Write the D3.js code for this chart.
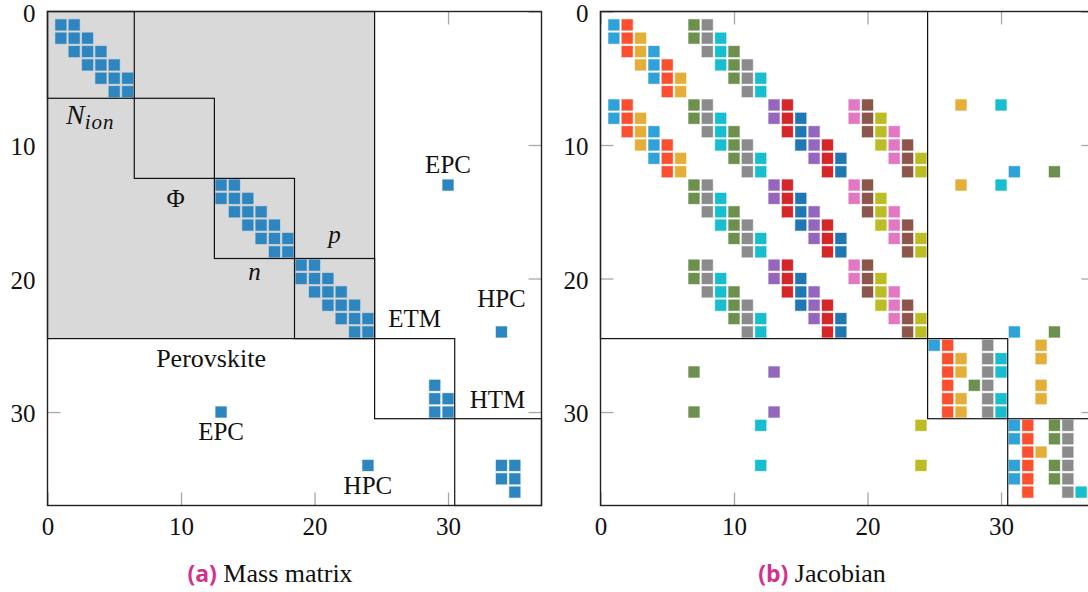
<!DOCTYPE html>
<html>
<head>
<meta charset="utf-8">
<script src="https://cdn.jsdelivr.net/npm/d3@7"></script>
<style>
  body { margin: 0; background: #fff; }
  svg { display: block; }
</style>
</head>
<body>
<div id="chart"></div>
<script>
// matrix size, tick labels and block boundaries
var matrixSize = 37;
var tickValues = [0, 10, 20, 30];
var blockEdges = [0, 6.5, 12.5, 18.5, 24.5, 30.5, 37];

// mass matrix: column indices of the nonzeros, one list per row (row 1..36)
var massCols = [
    [1, 2], [1, 2, 3], [2, 3, 4], [3, 4, 5], [4, 5, 6], [5, 6],
    [], [], [], [], [], [],
    [13, 14, 30], [13, 14, 15], [14, 15, 16], [15, 16, 17], [16, 17, 18], [17, 18],
    [19, 20], [19, 20, 21], [20, 21, 22], [21, 22, 23], [22, 23, 24], [23, 24, 34],
    [], [], [], [29], [29, 30], [13, 29, 30],
    [], [], [], [24, 34, 35], [34, 35], [35]
];

// jacobian: column indices of the nonzeros, one list per row (row 1..36)
var jacCols = [
    [1, 2, 7, 8],
    [1, 2, 3, 7, 8, 9],
    [2, 3, 4, 8, 9, 10],
    [3, 4, 5, 9, 10, 11],
    [4, 5, 6, 10, 11, 12],
    [5, 6, 11, 12],
    [1, 2, 7, 8, 13, 14, 19, 20, 27, 30],
    [1, 2, 3, 7, 8, 9, 13, 14, 15, 19, 20, 21],
    [2, 3, 4, 8, 9, 10, 14, 15, 16, 20, 21, 22],
    [3, 4, 5, 9, 10, 11, 15, 16, 17, 21, 22, 23],
    [4, 5, 6, 10, 11, 12, 16, 17, 18, 22, 23, 24],
    [5, 6, 11, 12, 17, 18, 23, 24, 31, 34],
    [7, 8, 13, 14, 19, 20, 27, 30],
    [7, 8, 9, 13, 14, 15, 19, 20, 21],
    [8, 9, 10, 14, 15, 16, 20, 21, 22],
    [9, 10, 11, 15, 16, 17, 21, 22, 23],
    [10, 11, 12, 16, 17, 18, 22, 23, 24],
    [11, 12, 17, 18, 23, 24],
    [7, 8, 13, 14, 19, 20],
    [7, 8, 9, 13, 14, 15, 19, 20, 21],
    [8, 9, 10, 14, 15, 16, 20, 21, 22],
    [9, 10, 11, 15, 16, 17, 21, 22, 23],
    [10, 11, 12, 16, 17, 18, 22, 23, 24],
    [11, 12, 17, 18, 23, 24, 31, 34],
    [25, 26, 29, 33],
    [26, 27, 29, 30, 33],
    [7, 13, 26, 27, 29, 30],
    [26, 28, 29, 33],
    [26, 27, 29, 30, 33],
    [7, 13, 26, 27, 29, 30],
    [12, 24, 31, 32, 34, 35],
    [31, 32, 34, 35],
    [32, 33, 35],
    [12, 24, 31, 32, 34, 35],
    [31, 32, 34, 35],
    [32, 35, 36]
];

// jacobian colour of each column (col 1..36)
var jacColors = [
    "#30a2da", "#fc4f30", "#e5ae38", "#30a2da", "#fc4f30", "#e5ae38",
    "#6d904f", "#8b8b8b", "#17becf", "#6d904f", "#8b8b8b", "#17becf",
    "#9467bd", "#d62728", "#1f77b4", "#9467bd", "#d62728", "#1f77b4",
    "#e377c2", "#8c564b", "#bcbd22", "#e377c2", "#8c564b", "#bcbd22",
    "#30a2da", "#fc4f30", "#e5ae38", "#6d904f", "#8b8b8b", "#17becf",
    "#30a2da", "#fc4f30", "#e5ae38", "#6d904f", "#8b8b8b", "#17becf"
];

// block labels on the mass matrix
var massLabels = [
    { text: "Φ", x: 9.6, y: 14.0, italic: false },
    { text: "p", x: 21.5, y: 16.9, italic: true },
    { text: "n", x: 15.5, y: 19.7, italic: true },
    { text: "ETM", x: 27.5, y: 23.05, italic: false },
    { text: "Perovskite", x: 12.25, y: 26.0, italic: false },
    { text: "HTM", x: 33.7, y: 29.1, italic: false },
    { text: "EPC", x: 30, y: 11.5, italic: false },
    { text: "HPC", x: 34, y: 21.5, italic: false },
    { text: "EPC", x: 13, y: 31.5, italic: false },
    { text: "HPC", x: 24, y: 35.5, italic: false }
];

var svgWidth = 1088;
var svgHeight = 592;
var plotSize = 494;
var plotTop = 11.5;
var serif = "'Liberation Serif', 'Times New Roman', serif";

var svg = d3.select("#chart")
    .append("svg")
    .attr("width", svgWidth)
    .attr("height", svgHeight);

svg.append("rect")
    .attr("width", svgWidth)
    .attr("height", svgHeight)
    .attr("fill", "#fff");

function toCells(colsPerRow) {
    var cells = [];
    colsPerRow.forEach(function(cols, i) {
        cols.forEach(function(c) {
            cells.push({ row: i + 1, col: c });
        });
    });
    return cells;
}

function drawPanel(left, cells, colorOf, isMass) {
    var x = d3.scaleLinear().domain([0, matrixSize]).range([left, left + plotSize]);
    var y = d3.scaleLinear().domain([0, matrixSize]).range([plotTop, plotTop + plotSize]);

    var g = svg.append("g");

    // ticks (inward, gray), labels only left and bottom
    var axes = [
        { axis: d3.axisBottom(x), t: `translate(0, ${y(matrixSize)})`, labels: true },
        { axis: d3.axisLeft(y), t: `translate(${x(0)}, 0)`, labels: true },
        { axis: d3.axisTop(x), t: `translate(0, ${y(0)})`, labels: false },
        { axis: d3.axisRight(y), t: `translate(${x(matrixSize)}, 0)`, labels: false }
    ];
    axes.forEach(function(a) {
        a.axis.tickValues(tickValues).tickSize(-13).tickPadding(12);
        if (!a.labels) a.axis.tickFormat("");
        var ag = g.append("g")
            .attr("transform", a.t)
            .call(a.axis);
        ag.select(".domain").remove();
        ag.selectAll(".tick line")
            .attr("stroke", "#a8a8a8")
            .attr("stroke-width", 1.3);
        ag.selectAll(".tick text")
            .attr("fill", "#111")
            .style("font-family", serif)
            .style("font-size", "25px");
    });
    // keep the top "0" label inside the picture
    g.selectAll(".tick text")
        .filter(function() { return this.getAttribute("dy") === "0.32em"; })
        .attr("dy", "0.38em");

    // gray perovskite area on the mass matrix
    if (isMass) {
        g.append("rect")
            .attr("x", x(0))
            .attr("y", y(0))
            .attr("width", x(blockEdges[4]) - x(0))
            .attr("height", y(blockEdges[4]) - y(0))
            .attr("fill", "#d9d9d9");
    }

    // nonzero entries
    var s = 11;
    g.selectAll("rect.cell")
        .data(cells)
        .enter()
        .append("rect")
        .attr("class", "cell")
        .attr("x", d => x(d.col) - s / 2)
        .attr("y", d => y(d.row) - s / 2)
        .attr("width", s)
        .attr("height", s)
        .attr("fill", d => colorOf(d))
        .attr("stroke", d => colorOf(d))
        .attr("stroke-opacity", 0.35)
        .attr("stroke-width", 1);

    // block rectangles
    var blocks = [[0, 4], [4, 5], [5, 6]];
    if (isMass) blocks = blocks.concat([[0, 1], [1, 2], [2, 3], [3, 4]]);
    blocks.forEach(function(b) {
        var a0 = blockEdges[b[0]], a1 = blockEdges[b[1]];
        g.append("rect")
            .attr("x", x(a0))
            .attr("y", y(a0))
            .attr("width", x(a1) - x(a0))
            .attr("height", y(a1) - y(a0))
            .attr("fill", "none")
            .attr("stroke", "#111")
            .attr("stroke-width", 1.2);
    });

    // frame
    g.append("rect")
        .attr("x", x(0))
        .attr("y", y(0))
        .attr("width", plotSize)
        .attr("height", plotSize)
        .attr("fill", "none")
        .attr("stroke", "#222")
        .attr("stroke-width", 1.4);

    return { g: g, x: x, y: y };
}

// (a) mass matrix
var massPanel = drawPanel(47.5, toCells(massCols), function() { return "#2e86c1"; }, true);

massPanel.g.selectAll("text.lab")
    .data(massLabels)
    .enter()
    .append("text")
    .attr("class", "lab")
    .attr("x", d => massPanel.x(d.x))
    .attr("y", d => massPanel.y(d.y))
    .attr("dy", d => d.italic ? "0.22em" : "0.33em")
    .attr("text-anchor", "middle")
    .attr("fill", "#111")
    .style("font-family", serif)
    .style("font-style", d => d.italic ? "italic" : "normal")
    .style("font-size", d => d.text === "Perovskite" ? "26px" : "25px")
    .text(d => d.text);

// N_ion label with subscript
var nion = massPanel.g.append("text")
    .attr("x", massPanel.x(3.2))
    .attr("y", massPanel.y(8.0))
    .attr("dy", "0.33em")
    .attr("text-anchor", "middle")
    .attr("fill", "#111")
    .style("font-family", serif)
    .style("font-style", "italic");
nion.append("tspan").style("font-size", "28px").text("N");
nion.append("tspan").style("font-size", "21px").style("letter-spacing", "1px").attr("dy", "5").text("ion");

// (b) jacobian
drawPanel(600.5, toCells(jacCols), function(d) { return jacColors[d.col - 1]; }, false);

// captions
var captions = [
    { tag: "(a)", text: "Mass matrix", x: 270 },
    { tag: "(b)", text: "Jacobian", x: 822 }
];
captions.forEach(function(c) {
    var t = svg.append("text")
        .attr("x", c.x)
        .attr("y", 582)
        .attr("text-anchor", "middle");
    t.append("tspan")
        .style("font-family", "'Open Sans', sans-serif")
        .style("font-weight", "bold")
        .style("font-size", "23px")
        .attr("fill", "#d1338c")
        .text(c.tag);
    t.append("tspan")
        .style("font-family", serif)
        .style("font-size", "26px")
        .attr("fill", "#111")
        .text("\u00a0" + c.text);
});
</script>
</body>
</html>
